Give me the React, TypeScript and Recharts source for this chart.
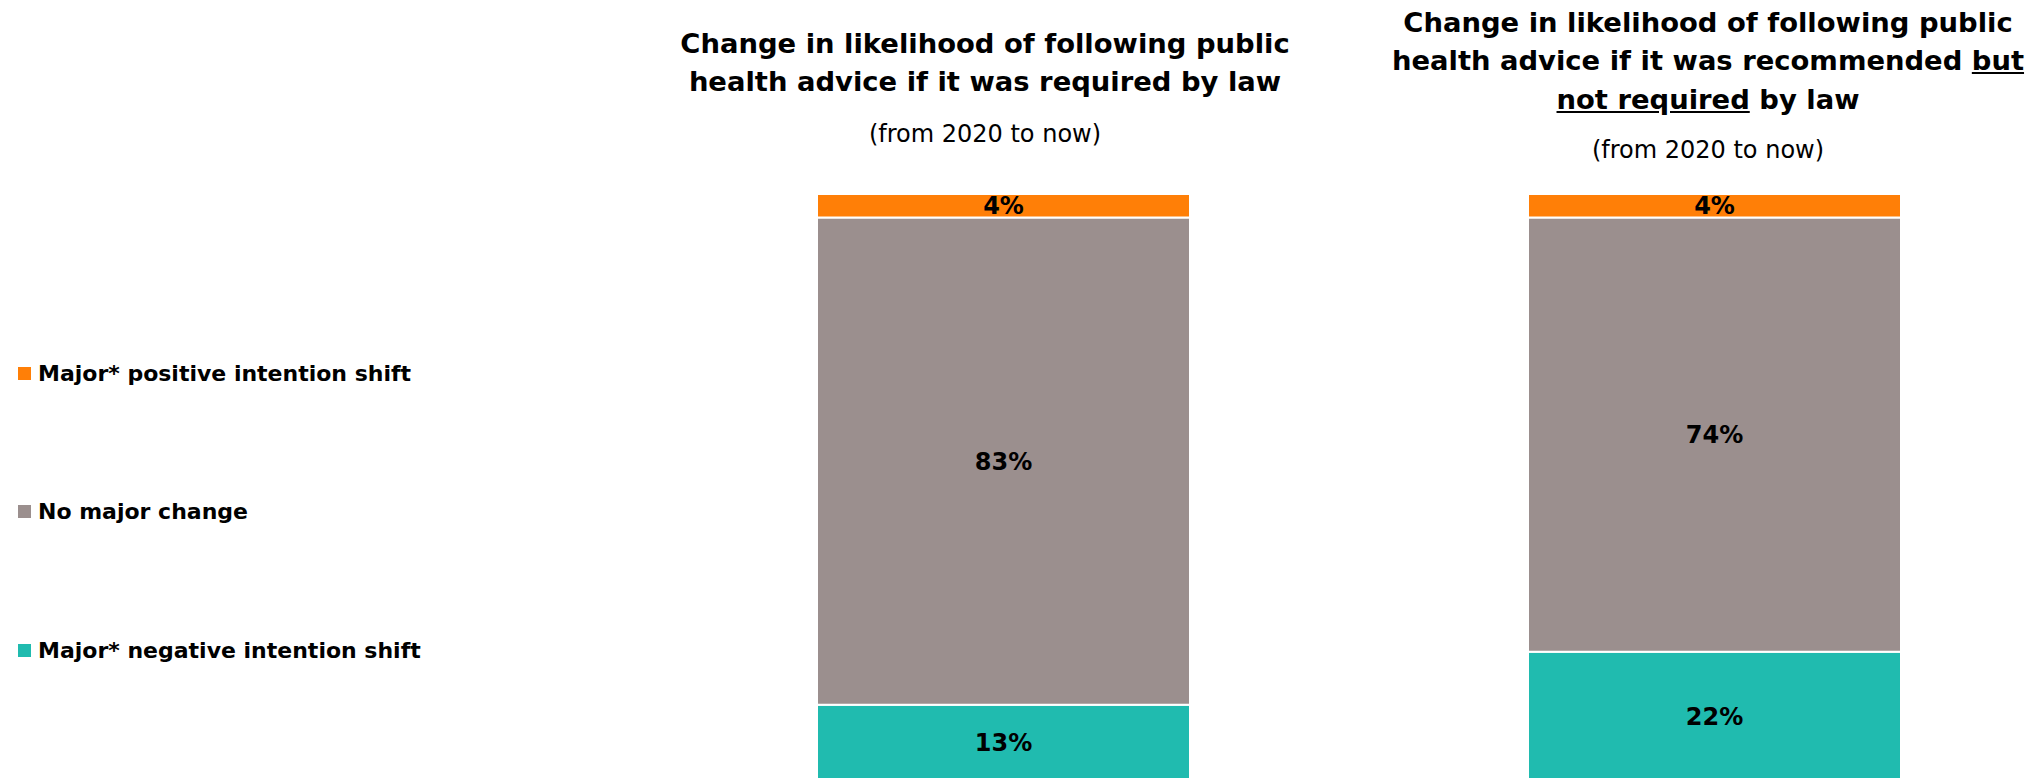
import { BarChart, Bar, XAxis, YAxis, Legend, LabelList } from "recharts";

const categories = ["Required by law", "Recommended but not required by law"];
const positiveShift = [4, 4];
const noMajorChange = [83, 74];
const negativeShift = [13, 22];

const SERIES_NAMES = {
  positive: "Major* positive intention shift",
  none: "No major change",
  negative: "Major* negative intention shift",
};

const COLORS = {
  positive: "#FF7F07",
  none: "#9B8F8E",
  negative: "#20BBAF",
};

const data = categories.map((name, i) => ({
  name,
  negative: negativeShift[i],
  none: noMajorChange[i],
  positive: positiveShift[i],
}));

const FONT = "'DejaVu Sans', sans-serif";

// title lines, [text, underlined]
const leftTitle = [
  [["Change in likelihood of following public", false]],
  [["health advice if it was required by law", false]],
];
const rightTitle = [
  [["Change in likelihood of following public", false]],
  [["health advice if it was recommended ", false], ["but", true]],
  [["not required", true], [" by law", false]],
];
const subtitle = "(from 2020 to now)";

const LEGEND_ORDER = ["positive", "none", "negative"];

const renderLegend = (props: any) => {
  const payload = props.payload || [];
  const items = LEGEND_ORDER.map((k) => payload.find((p: any) => p.dataKey === k)).filter(Boolean);
  return (
    <div style={{ position: "relative", width: 600, height: 778 }}>
      {items.map((entry: any, i: number) => (
        <div
          key={entry.dataKey}
          style={{
            position: "absolute",
            left: 18,
            top: 373 + i * 138.5 - 15,
            height: 30,
            display: "flex",
            alignItems: "center",
            whiteSpace: "nowrap",
          }}
        >
          <span style={{ width: 13, height: 13, background: entry.color, marginRight: 7, flexShrink: 0 }} />
          <span style={{ fontSize: 22, fontWeight: "bold", color: "#000" }}>{entry.value}</span>
        </div>
      ))}
    </div>
  );
};

const TitleBlock = ({ lines, cx, top }: { lines: any[]; cx: number; top: number }) => (
  <>
    {lines.map((segs, i) => (
      <div
        key={i}
        style={{
          position: "absolute",
          left: cx - 400,
          width: 800,
          top: top + i * 38.5,
          textAlign: "center",
          fontSize: 27.4,
          lineHeight: "30px",
          fontWeight: "bold",
          whiteSpace: "nowrap",
        }}
      >
        {segs.map(([t, u]: [string, boolean], j: number) =>
          u ? <u key={j}>{t}</u> : <span key={j} style={{ whiteSpace: "pre" }}>{t}</span>
        )}
      </div>
    ))}
  </>
);

const Subtitle = ({ cx, top }: { cx: number; top: number }) => (
  <div
    style={{
      position: "absolute",
      left: cx - 300,
      width: 600,
      top,
      textAlign: "center",
      fontSize: 24,
      lineHeight: "28px",
    }}
  >
    {subtitle}
  </div>
);

const labelFmt = (v: any) => `${v}%`;

export default function App() {
  return (
    <div
      style={{
        position: "absolute",
        left: 0,
        top: 0,
        width: 2039,
        height: 778,
        overflow: "hidden",
        background: "#fff",
        fontFamily: FONT,
        color: "#000",
      }}
    >
      <BarChart
        width={2070}
        height={800}
        data={data}
        margin={{ top: 194, right: 0, bottom: 19, left: 648 }}
        barSize={373}
      >
        <XAxis dataKey="name" hide />
        <YAxis hide domain={[0, 100]} />
        <Legend
          layout="vertical"
          align="center"
          verticalAlign="middle"
          content={renderLegend}
          wrapperStyle={{ left: 0, top: 0, width: 600, height: 778 }}
        />
        <Bar dataKey="negative" name={SERIES_NAMES.negative} stackId="a" fill={COLORS.negative} stroke="#fff" strokeWidth={2} isAnimationActive={false}>
          <LabelList dataKey="negative" position="center" formatter={labelFmt} fill="#000" fontSize={24} fontWeight="bold" />
        </Bar>
        <Bar dataKey="none" name={SERIES_NAMES.none} stackId="a" fill={COLORS.none} stroke="#fff" strokeWidth={2} isAnimationActive={false}>
          <LabelList dataKey="none" position="center" formatter={labelFmt} fill="#000" fontSize={24} fontWeight="bold" />
        </Bar>
        <Bar dataKey="positive" name={SERIES_NAMES.positive} stackId="a" fill={COLORS.positive} stroke="#fff" strokeWidth={2} isAnimationActive={false}>
          <LabelList dataKey="positive" position="center" formatter={labelFmt} fill="#000" fontSize={24} fontWeight="bold" />
        </Bar>
      </BarChart>
      <TitleBlock lines={leftTitle} cx={985} top={28.6} />
      <Subtitle cx={985} top={119.7} />
      <TitleBlock lines={rightTitle} cx={1708} top={7.6} />
      <Subtitle cx={1708} top={135.7} />
    </div>
  );
}
